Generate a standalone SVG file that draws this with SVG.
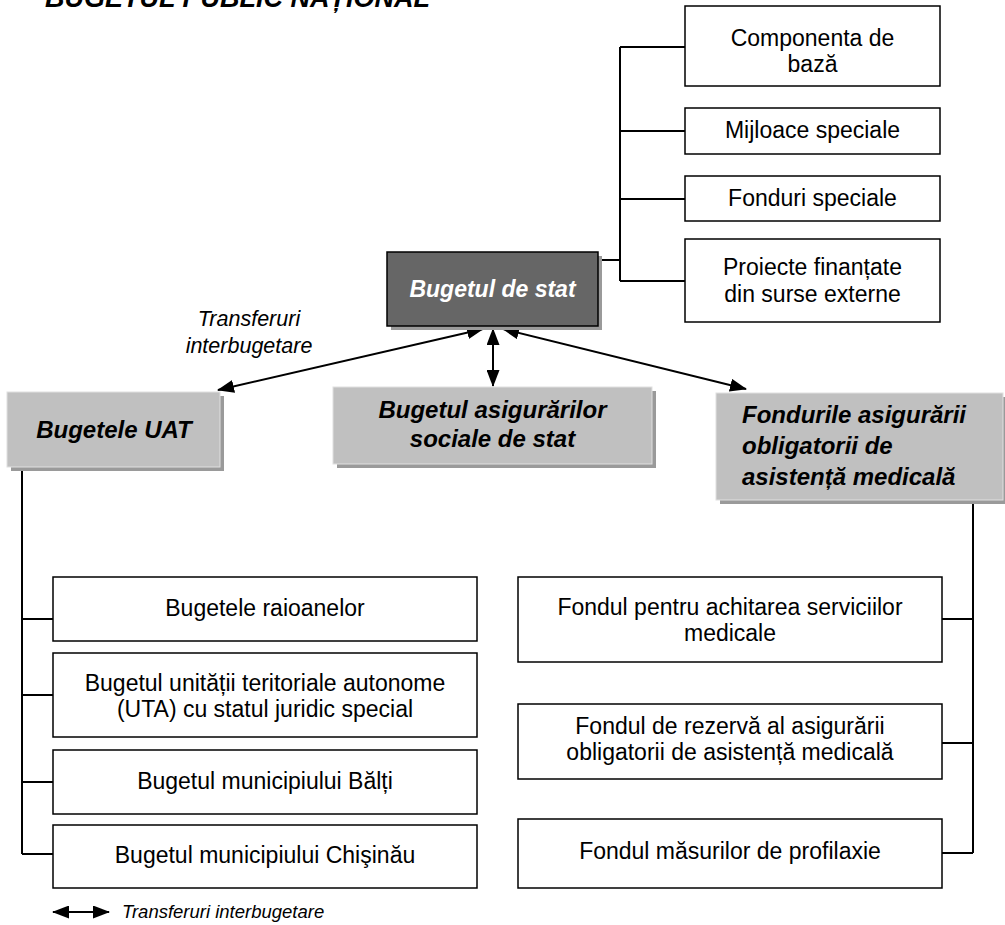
<svg xmlns="http://www.w3.org/2000/svg" width="1005" height="925" viewBox="0 0 1005 925">
<style>
.wb{fill:#fff;stroke:#000;stroke-width:1.5}
.gb{fill:#c0c0c0}
.sh{fill:#9a9a9a}
.t{font-family:"Liberation Sans",Arial,sans-serif;font-size:23px;fill:#000;text-anchor:middle}
.bi{font-family:"Liberation Sans",Arial,sans-serif;font-size:24px;font-weight:bold;font-style:italic;fill:#000;text-anchor:middle}
.bl{text-anchor:start}
.it{font-family:"Liberation Sans",Arial,sans-serif;font-style:italic;fill:#000}
.ln{fill:none;stroke:#000;stroke-width:2}
.ar{fill:none;stroke:#000;stroke-width:2;marker-start:url(#ah);marker-end:url(#ah)}
</style>
<defs>
<marker id="ah" markerWidth="17" markerHeight="13" refX="16" refY="6.5" orient="auto-start-reverse" markerUnits="userSpaceOnUse">
<path d="M0,0 L17,6.5 L0,13 z" fill="#000"/>
</marker>
</defs>
<rect width="1005" height="925" fill="#fff"/>
<text x="45" y="7" class="it" style="font-weight:bold;font-size:27px">BUGETUL PUBLIC NAȚIONAL</text>

<g id="connectors">
<path class="ln" d="M598,260 H620 M620,47 V281 M620,47 H685 M620,131 H685 M620,199 H685 M620,281 H685"/>
<path class="ln" d="M22,467 V854 M22,619 H53 M22,695 H53 M22,782 H53 M22,854 H53"/>
<path class="ln" d="M973,503 V853 M942,619 H973 M942,743 H973 M942,853 H973"/>
<line class="ar" x1="483" y1="329" x2="218" y2="390"/>
<line class="ar" x1="493" y1="329" x2="493" y2="386"/>
<line class="ar" x1="503" y1="329" x2="746" y2="389"/>
</g>

<g id="n-componenta">
<rect class="wb" x="685" y="6" width="255" height="80"/>
<text class="t" x="812.5" y="46">Componenta de</text>
<text class="t" x="812.5" y="72">bază</text>
</g>
<g id="n-mijloace">
<rect class="wb" x="685" y="108" width="255" height="46"/>
<text class="t" x="812.5" y="138">Mijloace speciale</text>
</g>
<g id="n-fonduri">
<rect class="wb" x="685" y="176" width="255" height="45"/>
<text class="t" x="812.5" y="206">Fonduri speciale</text>
</g>
<g id="n-proiecte">
<rect class="wb" x="685" y="239" width="255" height="83"/>
<text class="t" x="812.5" y="275">Proiecte finanțate</text>
<text class="t" x="812.5" y="302">din surse externe</text>
</g>

<g id="n-stat">
<rect class="sh" x="391" y="256" width="211" height="74"/>
<rect x="387" y="252" width="211" height="74" fill="#666" stroke="#000" stroke-width="1.5"/>
<text class="bi" x="492.5" y="297" style="fill:#fff;font-size:23px">Bugetul de stat</text>
</g>

<g id="lbl-transfer">
<text class="it" x="249" y="326" text-anchor="middle" style="font-size:21.5px">Transferuri</text>
<text class="it" x="249" y="353" text-anchor="middle" style="font-size:21.5px">interbugetare</text>
</g>

<g id="n-uat">
<rect class="sh" x="11" y="396" width="213" height="75"/>
<rect class="gb" x="7" y="392" width="213" height="75" stroke="#e0e0e0" stroke-width="1"/>
<text class="bi" x="114" y="438">Bugetele UAT</text>
</g>
<g id="n-asig">
<rect class="sh" x="337" y="391" width="319" height="77"/>
<rect class="gb" x="333" y="387" width="319" height="77" stroke="#e0e0e0" stroke-width="1"/>
<text class="bi" x="492.5" y="418">Bugetul asigurărilor</text>
<text class="bi" x="492.5" y="447">sociale de stat</text>
</g>
<g id="n-fam">
<rect class="sh" x="720" y="397" width="287" height="107"/>
<rect class="gb" x="716" y="393" width="287" height="107" stroke="#e0e0e0" stroke-width="1"/>
<text class="bi bl" x="742" y="423">Fondurile asigurării</text>
<text class="bi bl" x="742" y="454">obligatorii de</text>
<text class="bi bl" x="742" y="485">asistență medicală</text>
</g>

<g id="n-raioane">
<rect class="wb" x="53" y="577" width="424" height="64"/>
<text class="t" x="265" y="616">Bugetele raioanelor</text>
</g>
<g id="n-uta">
<rect class="wb" x="53" y="653" width="424" height="84"/>
<text class="t" x="265" y="691">Bugetul unității teritoriale autonome</text>
<text class="t" x="265" y="717">(UTA) cu statul juridic special</text>
</g>
<g id="n-balti">
<rect class="wb" x="53" y="750" width="424" height="64"/>
<text class="t" x="265" y="789">Bugetul municipiului Bălți</text>
</g>
<g id="n-chisinau">
<rect class="wb" x="53" y="825" width="424" height="63"/>
<text class="t" x="265" y="863">Bugetul municipiului Chişinău</text>
</g>

<g id="n-achitare">
<rect class="wb" x="518" y="577" width="424" height="85"/>
<text class="t" x="730" y="615">Fondul pentru achitarea serviciilor</text>
<text class="t" x="730" y="641">medicale</text>
</g>
<g id="n-rezerva">
<rect class="wb" x="518" y="704" width="424" height="75"/>
<text class="t" x="730" y="734">Fondul de rezervă al asigurării</text>
<text class="t" x="730" y="760">obligatorii de asistență medicală</text>
</g>
<g id="n-profilaxie">
<rect class="wb" x="518" y="819" width="424" height="69"/>
<text class="t" x="730" y="859">Fondul măsurilor de profilaxie</text>
</g>

<g id="legend">
<line class="ar" x1="53" y1="912" x2="109" y2="912"/>
<text class="it" x="122" y="918" style="font-size:18.5px">Transferuri interbugetare</text>
</g>
</svg>
